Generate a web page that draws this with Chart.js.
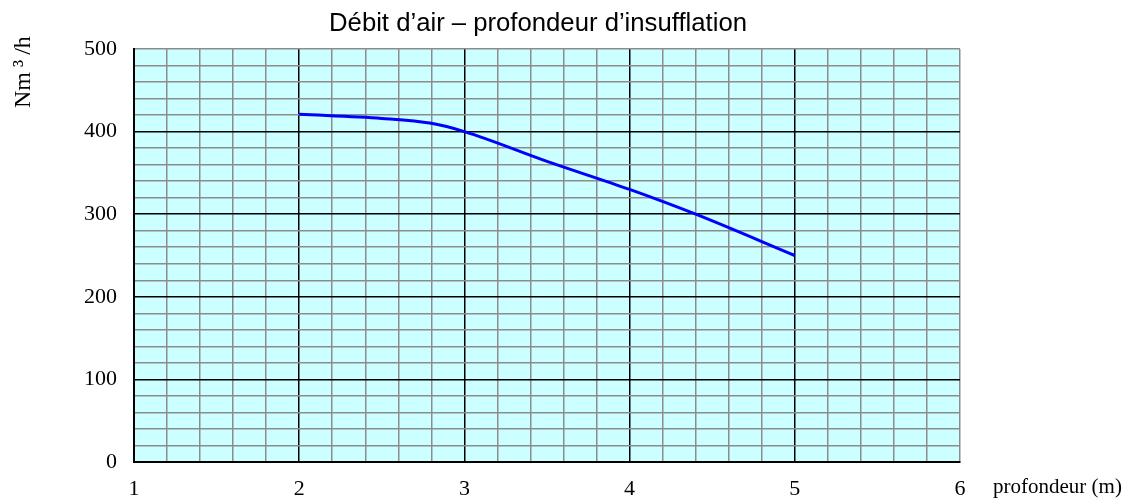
<html>

<head>
    <title>Débit d'air</title>
    <script src="https://cdn.jsdelivr.net/npm/chart.js@4.4.0/dist/chart.umd.min.js"></script>
    <style>
        body { margin: 0; background: #fff; }
    </style>
</head>

<body>
    <canvas id="chart" width="1126" height="498"></canvas>
    <script>
        let depths = [2, 2.5, 2.8, 3, 3.5, 4, 4.4, 5];
        let airFlow = [421, 416, 410, 400, 364, 330, 300, 250];
        let xTickLabels = [1, 2, 3, 4, 5, 6];
        let yTickLabels = [0, 100, 200, 300, 400, 500];

        let points = depths.map(function (d, i) { return { x: d, y: airFlow[i] }; });

        function isMajor(v, step) {
            let r = v / step;
            return Math.abs(r - Math.round(r)) < 1e-6;
        }

        let serif = "'Liberation Serif', 'Times New Roman', serif";

        let extras = {
            id: 'extras',
            beforeDraw: function (chart) {
                let c = chart.ctx, a = chart.chartArea;
                c.save();
                c.fillStyle = '#ccffff';
                c.fillRect(a.left, a.top, a.right - a.left, a.bottom - a.top);
                c.restore();
            },
            afterDraw: function (chart) {
                let c = chart.ctx;
                c.save();
                c.fillStyle = '#000';
                c.font = "25.7px 'Liberation Sans', Arial, sans-serif";
                c.textAlign = 'center';
                c.textBaseline = 'middle';
                c.fillText('Débit d\u2019air \u2013 profondeur d\u2019insufflation', 538, 24);

                c.font = '21px ' + serif;
                c.textAlign = 'left';
                c.fillText('profondeur (m)', 993, 487);

                // vertical unit label, top of the y axis
                c.translate(24, 108);
                c.rotate(-Math.PI / 2);
                c.font = '24px ' + serif;
                c.textAlign = 'left';
                let x = 0;
                ['Nm', '\u00b3', '/h'].forEach(function (s, i) {
                    c.fillText(s, x, 0);
                    x += c.measureText(s).width + (i < 2 ? 5 : 0);
                });
                c.restore();
            }
        };

        let ctx = document.getElementById('chart').getContext('2d');
        let chart = new Chart(ctx, {
            type: 'line',
            data: {
                datasets: [{
                    label: 'Débit',
                    data: points,
                    borderColor: '#0000ff',
                    borderWidth: 3,
                    fill: false,
                    pointRadius: 0,
                    cubicInterpolationMode: 'monotone'
                }]
            },
            options: {
                animation: false,
                responsive: false,
                layout: { padding: { top: 49, right: 166, left: 0, bottom: 0 } },
                plugins: {
                    legend: { display: false },
                    title: { display: false },
                    tooltip: { enabled: false }
                },
                scales: {
                    x: {
                        type: 'linear',
                        min: 1,
                        max: 6,
                        afterFit: function (s) { s.height = 36; },
                        ticks: {
                            stepSize: 0.2,
                            autoSkip: false,
                            maxRotation: 0,
                            padding: 14,
                            color: '#000',
                            font: { family: serif, size: 22 },
                            callback: function (v) {
                                let r = Math.round(v);
                                return (isMajor(v, 1) && xTickLabels.indexOf(r) >= 0) ? String(r) : '';
                            }
                        },
                        grid: {
                            drawTicks: false,
                            lineWidth: 1.5,
                            color: function (c) {
                                let v = c.tick.value;
                                return (isMajor(v, 1) && Math.abs(v - 6) > 1e-6) ? '#000' : '#8c8c8c';
                            }
                        },
                        border: { display: true, color: '#000', width: 2 }
                    },
                    y: {
                        min: 0,
                        max: 500,
                        afterFit: function (s) { s.width = 134; },
                        ticks: {
                            stepSize: 20,
                            autoSkip: false,
                            padding: 17,
                            color: '#000',
                            font: { family: serif, size: 22 },
                            callback: function (v) {
                                let r = Math.round(v);
                                return (isMajor(v, 100) && yTickLabels.indexOf(r) >= 0) ? String(r) : '';
                            }
                        },
                        grid: {
                            drawTicks: false,
                            lineWidth: 1.5,
                            color: function (c) {
                                let v = c.tick.value;
                                return (isMajor(v, 100) && Math.abs(v - 500) > 1e-6) ? '#000' : '#8c8c8c';
                            }
                        },
                        border: { display: true, color: '#000', width: 2 }
                    }
                }
            },
            plugins: [extras]
        });
    </script>
</body>

</html>
